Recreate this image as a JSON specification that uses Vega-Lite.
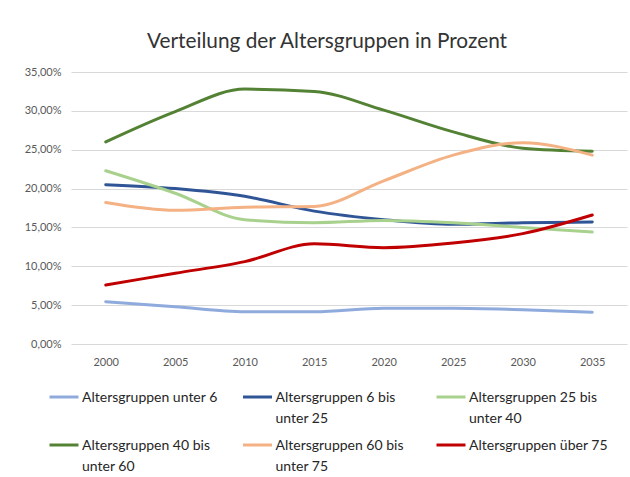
{
  "$schema": "https://vega.github.io/schema/vega-lite/v6.json",
  "width": 556,
  "height": 272,
  "autosize": {"type": "none"},
  "padding": {"left": 71, "top": 72, "right": 3, "bottom": 133},
  "background": "white",
  "title": {
    "text": "Verteilung der Altersgruppen in Prozent",
    "anchor": "middle",
    "frame": "group",
    "dx": -22,
    "offset": 13,
    "font": "Lato",
    "fontSize": 20.8,
    "fontWeight": "normal",
    "color": "#333333"
  },
  "data": {
    "values": [
      {"jahr": "2000", "gruppe": "Altersgruppen unter 6", "anteil": 0.0545},
      {"jahr": "2005", "gruppe": "Altersgruppen unter 6", "anteil": 0.048},
      {"jahr": "2010", "gruppe": "Altersgruppen unter 6", "anteil": 0.0415},
      {"jahr": "2015", "gruppe": "Altersgruppen unter 6", "anteil": 0.0415},
      {"jahr": "2020", "gruppe": "Altersgruppen unter 6", "anteil": 0.046},
      {"jahr": "2025", "gruppe": "Altersgruppen unter 6", "anteil": 0.046},
      {"jahr": "2030", "gruppe": "Altersgruppen unter 6", "anteil": 0.044},
      {"jahr": "2035", "gruppe": "Altersgruppen unter 6", "anteil": 0.041},
      {"jahr": "2000", "gruppe": "Altersgruppen 6 bis unter 25", "anteil": 0.205},
      {"jahr": "2005", "gruppe": "Altersgruppen 6 bis unter 25", "anteil": 0.200},
      {"jahr": "2010", "gruppe": "Altersgruppen 6 bis unter 25", "anteil": 0.190},
      {"jahr": "2015", "gruppe": "Altersgruppen 6 bis unter 25", "anteil": 0.171},
      {"jahr": "2020", "gruppe": "Altersgruppen 6 bis unter 25", "anteil": 0.160},
      {"jahr": "2025", "gruppe": "Altersgruppen 6 bis unter 25", "anteil": 0.154},
      {"jahr": "2030", "gruppe": "Altersgruppen 6 bis unter 25", "anteil": 0.156},
      {"jahr": "2035", "gruppe": "Altersgruppen 6 bis unter 25", "anteil": 0.157},
      {"jahr": "2000", "gruppe": "Altersgruppen 25 bis unter 40", "anteil": 0.223},
      {"jahr": "2005", "gruppe": "Altersgruppen 25 bis unter 40", "anteil": 0.194},
      {"jahr": "2010", "gruppe": "Altersgruppen 25 bis unter 40", "anteil": 0.160},
      {"jahr": "2015", "gruppe": "Altersgruppen 25 bis unter 40", "anteil": 0.156},
      {"jahr": "2020", "gruppe": "Altersgruppen 25 bis unter 40", "anteil": 0.159},
      {"jahr": "2025", "gruppe": "Altersgruppen 25 bis unter 40", "anteil": 0.156},
      {"jahr": "2030", "gruppe": "Altersgruppen 25 bis unter 40", "anteil": 0.150},
      {"jahr": "2035", "gruppe": "Altersgruppen 25 bis unter 40", "anteil": 0.144},
      {"jahr": "2000", "gruppe": "Altersgruppen 40 bis unter 60", "anteil": 0.260},
      {"jahr": "2005", "gruppe": "Altersgruppen 40 bis unter 60", "anteil": 0.299},
      {"jahr": "2010", "gruppe": "Altersgruppen 40 bis unter 60", "anteil": 0.328},
      {"jahr": "2015", "gruppe": "Altersgruppen 40 bis unter 60", "anteil": 0.325},
      {"jahr": "2020", "gruppe": "Altersgruppen 40 bis unter 60", "anteil": 0.301},
      {"jahr": "2025", "gruppe": "Altersgruppen 40 bis unter 60", "anteil": 0.273},
      {"jahr": "2030", "gruppe": "Altersgruppen 40 bis unter 60", "anteil": 0.252},
      {"jahr": "2035", "gruppe": "Altersgruppen 40 bis unter 60", "anteil": 0.248},
      {"jahr": "2000", "gruppe": "Altersgruppen 60 bis unter 75", "anteil": 0.182},
      {"jahr": "2005", "gruppe": "Altersgruppen 60 bis unter 75", "anteil": 0.172},
      {"jahr": "2010", "gruppe": "Altersgruppen 60 bis unter 75", "anteil": 0.176},
      {"jahr": "2015", "gruppe": "Altersgruppen 60 bis unter 75", "anteil": 0.177},
      {"jahr": "2020", "gruppe": "Altersgruppen 60 bis unter 75", "anteil": 0.210},
      {"jahr": "2025", "gruppe": "Altersgruppen 60 bis unter 75", "anteil": 0.243},
      {"jahr": "2030", "gruppe": "Altersgruppen 60 bis unter 75", "anteil": 0.259},
      {"jahr": "2035", "gruppe": "Altersgruppen 60 bis unter 75", "anteil": 0.243},
      {"jahr": "2000", "gruppe": "Altersgruppen über 75", "anteil": 0.076},
      {"jahr": "2005", "gruppe": "Altersgruppen über 75", "anteil": 0.091},
      {"jahr": "2010", "gruppe": "Altersgruppen über 75", "anteil": 0.106},
      {"jahr": "2015", "gruppe": "Altersgruppen über 75", "anteil": 0.129},
      {"jahr": "2020", "gruppe": "Altersgruppen über 75", "anteil": 0.124},
      {"jahr": "2025", "gruppe": "Altersgruppen über 75", "anteil": 0.130},
      {"jahr": "2030", "gruppe": "Altersgruppen über 75", "anteil": 0.142},
      {"jahr": "2035", "gruppe": "Altersgruppen über 75", "anteil": 0.166}
    ]
  },
  "mark": {"type": "line", "interpolate": "monotone", "strokeWidth": 3, "strokeCap": "round"},
  "encoding": {
    "x": {
      "field": "jahr",
      "type": "ordinal",
      "scale": {"type": "point", "padding": 0.5},
      "axis": {
        "title": null,
        "labelAngle": 0,
        "ticks": false,
        "domain": false,
        "grid": false,
        "labelPadding": 12,
        "labelFont": "Lato",
        "labelFontSize": 11,
        "labelColor": "#595959"
      }
    },
    "y": {
      "field": "anteil",
      "type": "quantitative",
      "scale": {"domain": [0, 0.35], "nice": false, "zero": true},
      "axis": {
        "title": null,
        "values": [0, 0.05, 0.1, 0.15, 0.2, 0.25, 0.3, 0.35],
        "labelExpr": "replace(format(datum.value, '.2%'), '.', ',')",
        "ticks": false,
        "domain": false,
        "grid": true,
        "gridColor": "#D9D9D9",
        "gridWidth": 1,
        "labelPadding": 10,
        "labelFont": "Lato",
        "labelFontSize": 11,
        "labelColor": "#595959"
      }
    },
    "color": {
      "field": "gruppe",
      "type": "nominal",
      "scale": {
        "domain": [
          "Altersgruppen unter 6",
          "Altersgruppen 6 bis unter 25",
          "Altersgruppen 25 bis unter 40",
          "Altersgruppen 40 bis unter 60",
          "Altersgruppen 60 bis unter 75",
          "Altersgruppen über 75"
        ],
        "range": ["#8FAADC", "#2F5597", "#A9D18E", "#548235", "#F4B183", "#C00000"]
      },
      "legend": {
        "title": null,
        "orient": "none",
        "legendX": -23,
        "legendY": 309,
        "direction": "horizontal",
        "columns": 3,
        "gridAlign": "all",
        "symbolType": "stroke",
        "symbolSize": 841,
        "symbolStrokeWidth": 3,
        "labelOffset": 2,
        "columnPadding": 15.5,
        "rowPadding": 3,
        "labelFont": "Lato",
        "labelFontSize": 14,
        "labelColor": "#262626",
        "labelLimit": 300,
        "labelBaseline": "alphabetic",
        "labelExpr": "indexof(datum.label, ' bis ') > 0 ? [slice(datum.label, 0, indexof(datum.label, ' bis ') + 4), slice(datum.label, indexof(datum.label, ' bis ') + 5)] : [datum.label, ' ']",
        "encode": {
          "labels": {"update": {"lineHeight": {"value": 21}, "dy": {"value": 5}}}
        }
      }
    }
  },
  "config": {"view": {"stroke": null}}
}
